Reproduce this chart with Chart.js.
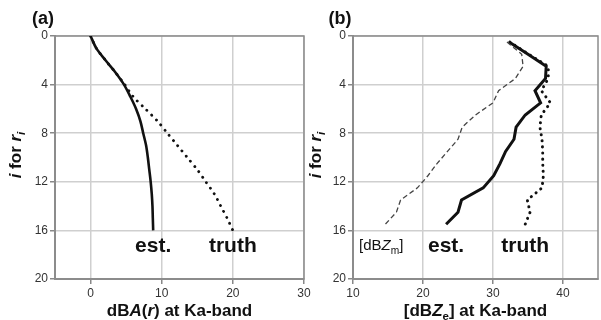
<!DOCTYPE html>
<html>
<head>
<meta charset="utf-8">
<script src="https://cdn.jsdelivr.net/npm/chart.js@4.4.1/dist/chart.umd.min.js"></script>
<style>
  body { margin: 0; background: #fff; }
  #wrap { position: relative; width: 601px; height: 320px; overflow: hidden; background: #fff; }
  canvas { position: absolute; top: 0; }
</style>
</head>
<body>
<div id="wrap">
  <canvas id="chartA" width="320" height="320" style="left:0px"></canvas>
  <canvas id="chartB" width="301" height="320" style="left:300px"></canvas>
</div>
<script>
const FONT = "'Liberation Sans', Arial, Helvetica, sans-serif";

// panel (a): path-integrated attenuation
const gatesA = [0, 1, 2, 3, 4, 5, 6, 7, 8, 9, 10, 11, 12, 13, 14, 15, 16];
const estA = [0, 0.8, 2.1, 3.5, 4.7, 5.6, 6.4, 7.0, 7.4, 7.8, 8.05, 8.25, 8.45, 8.6, 8.7, 8.75, 8.8];
const truthA = [0, 0.8, 2.1, 3.5, 4.8, 6.0, 7.7, 9.4, 10.8, 12.2, 13.6, 15.0, 16.2, 17.4, 18.3, 19.2, 20.0];
const xTicksA = [0, 10, 20, 30];

// panel (b): reflectivity profiles
const gatesB = [0.5, 1.5, 2.5, 3.5, 4.5, 5.5, 6.5, 7.5, 8.5, 9.5, 10.5, 11.5, 12.5, 13.5, 14.5, 15.5];
const zmB = [32.0, 34.1, 34.3, 33.2, 30.8, 30.0, 27.5, 25.6, 25.0, 23.5, 22.0, 20.7, 19.2, 16.8, 16.2, 14.6];
const estB = [32.3, 35.0, 37.6, 37.5, 36.0, 36.8, 34.6, 33.3, 33.0, 31.8, 31.0, 30.1, 28.6, 25.5, 25.0, 23.3];
const truthB = [32.4, 35.1, 37.9, 37.9, 36.9, 38.2, 36.9, 36.7, 37.0, 37.1, 37.1, 37.2, 37.0, 34.9, 35.3, 34.6];
const xTicksB = [10, 20, 30, 40];
const yTicks = [0, 4, 8, 12, 16, 20];

const xTitleA = [["dB", ""], ["A", "i"], ["(", ""], ["r", "i"], [") at Ka-band", ""]];
const xTitleB = [["[dB", ""], ["Z", "i"], ["e", "s"], ["] at Ka-band", ""]];
const yTitle = [["i", "i"], [" for ", ""], ["r", "i"], ["i", "is"]];
const zmLabel = [["[dB", ""], ["Z", "i"], ["m", "s"], ["]", ""]];

const toPoints = (xs, ys) => xs.map((v, k) => ({ x: v, y: ys[k] }));

// draws mixed italic / subscript text centred on (x, y)
function drawRich(ctx, parts, size, weight, x, y, rotate) {
  ctx.save();
  ctx.translate(x, y);
  if (rotate) ctx.rotate(-Math.PI / 2);
  ctx.fillStyle = "#111";
  ctx.textBaseline = "alphabetic";
  ctx.textAlign = "left";
  const pieces = parts.map(([t, s]) => {
    const sub = s.includes("s");
    const fs = sub ? size * 0.68 : size;
    const font = (s.includes("i") ? "italic " : "") + weight + " " + fs + "px " + FONT;
    ctx.font = font;
    return { t, font, w: ctx.measureText(t).width, dy: sub ? size * 0.25 : 0 };
  });
  const total = pieces.reduce((a, p) => a + p.w, 0);
  let cx = -total / 2;
  const base = size * 0.36;
  pieces.forEach((p) => {
    ctx.font = p.font;
    ctx.fillText(p.t, cx, base + p.dy);
    cx += p.w;
  });
  ctx.restore();
}

const framePlugin = {
  id: "frame",
  beforeDatasetsDraw(chart) {
    const { ctx, chartArea } = chart;
    ctx.save();
    ctx.strokeStyle = "#8c8c8c";
    ctx.lineWidth = 1.5;
    ctx.strokeRect(chartArea.left, chartArea.top, chartArea.right - chartArea.left, chartArea.bottom - chartArea.top);
    ctx.restore();
  },
};

function makeScales(xMin, xMax, xTicks, yWidth) {
  const grid = { color: "#cfcfcf", lineWidth: 1.5, tickColor: "#888", tickLength: 5 };
  const border = { display: true, color: "#8c8c8c", width: 2 };
  const ticks = { color: "#333", font: { family: FONT, size: 12 }, padding: 2, autoSkip: false };
  return {
    x: {
      type: "linear",
      min: xMin,
      max: xMax,
      grid,
      border,
      ticks: { ...ticks, maxRotation: 0 },
      afterBuildTicks: (scale) => { scale.ticks = xTicks.map((v) => ({ value: v })); },
      afterFit: (scale) => { scale.height = 41; },
    },
    y: {
      type: "linear",
      reverse: true,
      min: 0,
      max: 20,
      grid,
      border,
      ticks,
      afterBuildTicks: (scale) => { scale.ticks = yTicks.map((v) => ({ value: v })); },
      afterFit: (scale) => { scale.width = yWidth; },
    },
  };
}

function makeOptions(xMin, xMax, xTicks, yWidth, rightPad) {
  return {
    responsive: false,
    animation: false,
    layout: { padding: { left: 0, top: 36, right: rightPad, bottom: 0 } },
    plugins: { legend: { display: false }, tooltip: { enabled: false }, title: { display: false } },
    elements: { point: { radius: 0 } },
    scales: makeScales(xMin, xMax, xTicks, yWidth),
  };
}

const labelsA = {
  id: "labelsA",
  afterDraw(chart) {
    const { ctx, chartArea, scales } = chart;
    drawRich(ctx, [["(a)", ""]], 18, "bold", 43, 18);
    drawRich(ctx, xTitleA, 17, "bold", (chartArea.left + chartArea.right) / 2, 310);
    drawRich(ctx, yTitle, 17, "bold", 15, 155, true);
    const yLab = scales.y.getPixelForValue(gatesA[gatesA.length - 1]) + 14;
    drawRich(ctx, [["est.", ""]], 21, "bold", scales.x.getPixelForValue(estA[estA.length - 1]), yLab);
    drawRich(ctx, [["truth", ""]], 21, "bold", scales.x.getPixelForValue(truthA[truthA.length - 1]), yLab);
  },
};

const labelsB = {
  id: "labelsB",
  afterDraw(chart) {
    const { ctx, chartArea, scales } = chart;
    drawRich(ctx, [["(b)", ""]], 18, "bold", 40, 18);
    drawRich(ctx, xTitleB, 17, "bold", (chartArea.left + chartArea.right) / 2, 310);
    drawRich(ctx, yTitle, 17, "bold", 15, 155, true);
    const yLab = scales.y.getPixelForValue(16) + 14;
    drawRich(ctx, zmLabel, 15, "normal", scales.x.getPixelForValue(zmB[zmB.length - 1]) - 4, yLab);
    drawRich(ctx, [["est.", ""]], 21, "bold", scales.x.getPixelForValue(estB[estB.length - 1]), yLab);
    drawRich(ctx, [["truth", ""]], 21, "bold", scales.x.getPixelForValue(truthB[truthB.length - 1]), yLab);
  },
};

new Chart(document.getElementById("chartA"), {
  type: "scatter",
  data: {
    datasets: [
      {
        label: "truth",
        data: toPoints(truthA, gatesA),
        showLine: true,
        borderColor: "#111",
        borderWidth: 2.8,
        borderDash: [0.1, 6.6],
        borderCapStyle: "round",
        tension: 0.3,
      },
      {
        label: "est.",
        data: toPoints(estA, gatesA),
        showLine: true,
        borderColor: "#111",
        borderWidth: 2.6,
        tension: 0.3,
      },
    ],
  },
  options: makeOptions(-5, 30, xTicksA, 55, 16),
  plugins: [framePlugin, labelsA],
});

new Chart(document.getElementById("chartB"), {
  type: "scatter",
  data: {
    datasets: [
      {
        label: "dBZm",
        data: toPoints(zmB, gatesB),
        showLine: true,
        borderColor: "#444",
        borderWidth: 1.3,
        borderDash: [5, 3],
      },
      {
        label: "truth",
        data: toPoints(truthB, gatesB),
        showLine: true,
        borderColor: "#111",
        borderWidth: 3,
        borderDash: [0.1, 6],
        borderCapStyle: "round",
      },
      {
        label: "est.",
        data: toPoints(estB, gatesB),
        showLine: true,
        borderColor: "#111",
        borderWidth: 3,
      },
    ],
  },
  options: makeOptions(10, 45, xTicksB, 53, 3),
  plugins: [framePlugin, labelsB],
});
</script>
</body>
</html>
